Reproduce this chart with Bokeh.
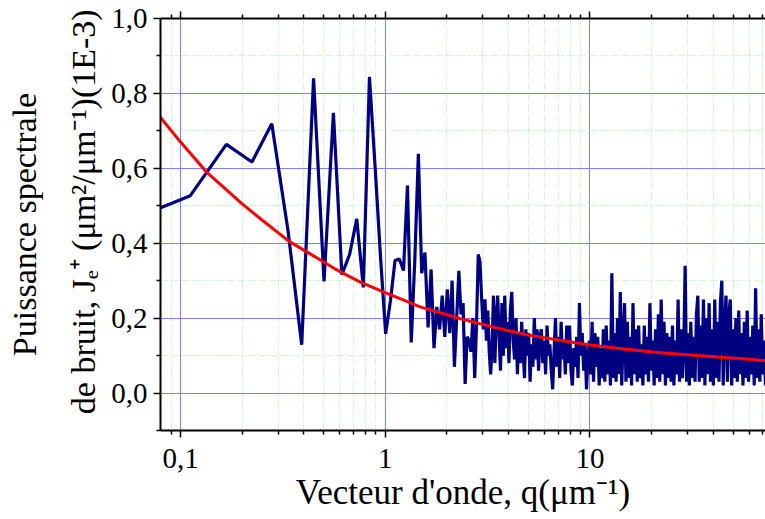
import numpy as np
from bokeh.plotting import figure
from bokeh.models import Range1d, LogAxis, FixedTicker, CustomJSTickFormatter
from bokeh.embed import file_html
from bokeh.resources import INLINE

# wave-vector step of the spectrum (um^-1)
DQ = 0.0558

# noise spectrum, low-q part: one value per step k*DQ, k = 1..54
noise_low = [0.46, 0.527, 0.664, 0.617, 0.719, 0.434, 0.129, 0.840, 0.298, 0.748,
             0.316, 0.370, 0.465, 0.282, 0.844, 0.600, 0.360, 0.158, 0.247, 0.354,
             0.358, 0.327, 0.554, 0.135, 0.360, 0.639, 0.320, 0.375, 0.175, 0.330,
             0.120, 0.230, 0.170, 0.260, 0.150, 0.277, 0.160, 0.300, 0.070, 0.200,
             0.326, 0.210, 0.240, 0.024, 0.150, 0.140, 0.110, 0.200, 0.040, 0.180,
             0.370, 0.350, 0.250, 0.170]

# noise spectrum, dense part (q from 3.07 to 72), read left to right
Q_HIGH_START = 3.07
Q_HIGH_END = 72.0
noise_high = [0.25, 0.14, 0.22, 0.11, 0.05, 0.12, 0.26, 0.08, 0.20, 0.26,
              0.15, 0.06, 0.24, 0.10, 0.26, 0.12, 0.19, 0.08, 0.22, 0.27,
              0.14, 0.09, 0.20, 0.05, 0.16, 0.08, 0.19, 0.12, 0.04, 0.17,
              0.10, 0.16, 0.03, 0.13, 0.07, 0.20, 0.09, 0.17, 0.06, 0.15,
              0.17, 0.08, 0.14, 0.05, 0.18, 0.10, 0.13, 0.06, 0.01, 0.11,
              0.20, 0.07, 0.15, 0.04, 0.19, 0.09, 0.14, 0.05, 0.18, 0.08,
              0.18, 0.06, 0.02, 0.12, 0.07, 0.15, 0.04, 0.24, 0.10, 0.16,
              0.06, 0.13, 0.01, 0.09, 0.14, 0.05, 0.19, 0.03, 0.16, 0.07,
              0.15, 0.02, 0.12, 0.04, 0.17, 0.03, 0.18, 0.05, 0.14, 0.02,
              0.32, 0.04, 0.16, 0.03, 0.20, 0.05, 0.27, 0.02, 0.15, 0.24,
              0.03, 0.19, 0.04, 0.15, 0.02, 0.24, 0.05, 0.17, 0.03, 0.18,
              0.04, 0.13, 0.02, 0.18, 0.05, 0.15, 0.03, 0.24, 0.06, 0.14,
              0.02, 0.17, 0.04, 0.21, 0.03, 0.25, 0.05, 0.19, 0.02, 0.16,
              0.04, 0.15, 0.03, 0.18, 0.02, 0.14, 0.05, 0.25, 0.03, 0.17,
              0.04, 0.12, 0.34, 0.03, 0.16, 0.02, 0.19, 0.04, 0.15, 0.03,
              0.21, 0.26, 0.03, 0.18, 0.04, 0.25, 0.02, 0.20, 0.05, 0.24,
              0.03, 0.17, 0.02, 0.25, 0.04, 0.19, 0.03, 0.24, 0.30, 0.02,
              0.18, 0.26, 0.03, 0.21, 0.25, 0.02, 0.17, 0.04, 0.20, 0.03,
              0.22, 0.05, 0.16, 0.02, 0.19, 0.04, 0.22, 0.03, 0.15, 0.05,
              0.18, 0.02, 0.28, 0.04, 0.17, 0.03, 0.21, 0.05, 0.14, 0.02]

# fitted curve (red)
fit_q = [0.075, 0.08, 0.1, 0.134, 0.2, 0.25, 0.339, 0.45, 0.562, 0.75, 1.0, 1.48, 2.31,
         3.37, 4.86, 7.1, 10.05, 15.0, 21.4, 30.0, 45.3, 60.0, 72.6]
fit_j = [0.76, 0.735, 0.670, 0.590, 0.505, 0.462, 0.405, 0.365, 0.333, 0.297, 0.268,
         0.230, 0.199, 0.176, 0.156, 0.141, 0.128, 0.117, 0.108, 0.102, 0.095, 0.090, 0.086]

# ticks
x_major = [0.1, 1, 10]
x_minor = [0.09, 0.2, 0.3, 0.4, 0.5, 0.6, 0.7, 0.8, 0.9,
           2, 3, 4, 5, 6, 7, 8, 9, 20, 30, 40, 50, 60, 70]
y_major = [0.0, 0.2, 0.4, 0.6, 0.8, 1.0]
y_minor = [-0.1, 0.1, 0.3, 0.5, 0.7, 0.9]

x_title = "Vecteur d'onde, q(\u03bcm\u207b\u00b9)"
y_title = ("Puissance spectrale\n"
           "\u00a0\u00a0\u00a0de bruit, J\u2091\u207a (\u03bcm\u00b2/\u03bcm\u207b\u00b9)(1E-3)")

q_low = DQ * np.arange(1, len(noise_low) + 1)
q_high = np.geomspace(Q_HIGH_START, Q_HIGH_END, len(noise_high))
q_all = np.concatenate([q_low, q_high])
j_all = np.concatenate([noise_low, noise_high])

FONT = "Liberation Serif"

p = figure(width=765, height=519, x_axis_type="log",
           x_range=Range1d(0.0798, 72.0), y_range=Range1d(-0.1, 1.0),
           output_backend="svg", toolbar_location=None,
           min_border_left=160, min_border_right=0, min_border_top=18, min_border_bottom=89)
p.outline_line_color = None
p.background_fill_color = "white"
p.border_fill_color = "white"

bottom = p.xaxis[0]
left = p.yaxis[0]

xt = FixedTicker(ticks=x_major, minor_ticks=x_minor)
yt = FixedTicker(ticks=y_major, minor_ticks=y_minor)

bottom.ticker = xt
left.ticker = yt
p.xgrid.ticker = xt
p.ygrid.ticker = yt

bottom.formatter = CustomJSTickFormatter(code="""
if (tick < 0.5) { return tick.toFixed(1).replace('.', ','); }
return tick.toFixed(0);
""")
left.formatter = CustomJSTickFormatter(code="""
var v = Math.abs(tick) < 1e-9 ? 0 : tick;
return v.toFixed(1).replace('.', ',');
""")

for g in (p.xgrid, p.ygrid):
    g.grid_line_color = "#7f7fff"
    g.grid_line_width = 1
    g.minor_grid_line_color = "#a8eea8"
    g.minor_grid_line_width = 1
    g.minor_grid_line_dash = "1 1 1 1 1 1 1 4"

top = LogAxis(ticker=xt, formatter=CustomJSTickFormatter(code="return '';"))
p.add_layout(top, "above")

for ax in (bottom, left, top):
    ax.axis_line_color = "black"
    ax.axis_line_width = 2
    ax.major_tick_line_color = "black"
    ax.minor_tick_line_color = "black"
    ax.major_tick_line_width = 1.5
    ax.minor_tick_line_width = 1.5
    ax.major_tick_in = 0
    ax.minor_tick_in = 0
    ax.major_tick_out = 7
    ax.minor_tick_out = 4
    ax.major_label_text_font = FONT
    ax.major_label_text_font_size = "29px"
    ax.major_label_text_color = "black"
    ax.axis_label_text_font = FONT
    ax.axis_label_text_font_size = "35px"
    ax.axis_label_text_font_style = "normal"
    ax.axis_label_text_color = "black"

top.major_label_text_font_size = "0px"
top.major_label_standoff = 0

bottom.axis_label = x_title
bottom.major_label_standoff = 11
bottom.axis_label_standoff = 2

left.axis_label = y_title
left.axis_label_text_font_size = "34px"
left.major_label_standoff = 6
left.axis_label_standoff = 6
left.axis_label_text_line_height = 1.6

p.line(q_all, j_all, line_color="#000080", line_width=3.2)
p.line(fit_q, fit_j, line_color="#ff0000", line_width=3)

open("out.html", "w").write(file_html(p, INLINE))
